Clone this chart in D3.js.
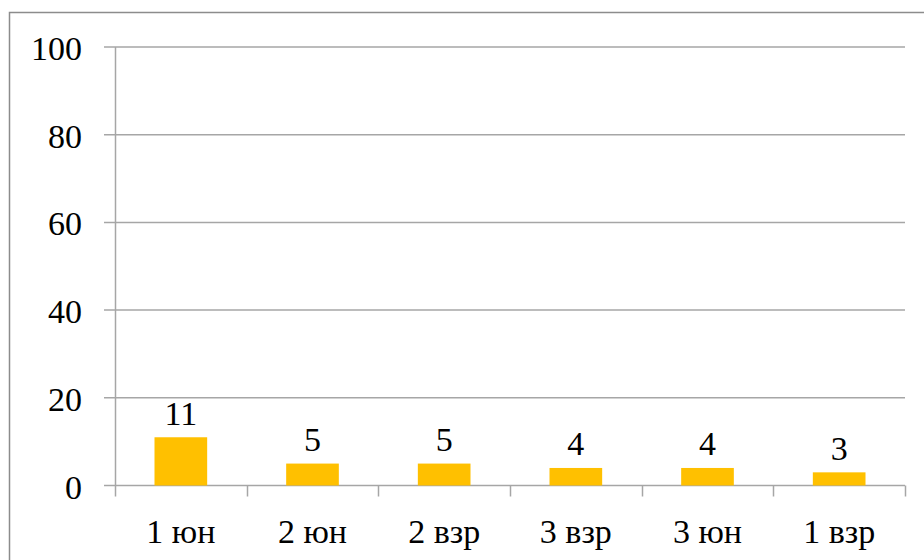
<!DOCTYPE html>
<html>
<head>
<meta charset="utf-8">
<script src="https://cdn.jsdelivr.net/npm/d3@7"></script>
<style>
  html, body { margin: 0; padding: 0; background: #fff; }
  svg { display: block; }
</style>
</head>
<body>
<svg id="chart" width="924" height="560"></svg>
<script>
const categories = ["1 юн", "2 юн", "2 взр", "3 взр", "3 юн", "1 взр"];
const values = [11, 5, 5, 4, 4, 3];
const yTicks = [0, 20, 40, 60, 80, 100];

const FONT = "'Liberation Serif', 'Times New Roman', Times, serif";
const svg = d3.select("#chart");
const W = 924, H = 560;
const margin = { left: 115, right: 19, top: 47, bottom: 74.5 };
const plotW = W - margin.left - margin.right;
const plotH = H - margin.top - margin.bottom;

// outer chart frame
svg.append("rect")
  .attr("x", 9.5).attr("y", 12.5)
  .attr("width", W).attr("height", H)
  .attr("fill", "none").attr("stroke", "#8c8c8c").attr("stroke-width", 1.5);

const g = svg.append("g").attr("transform", `translate(${margin.left},${margin.top})`);

const x = d3.scaleBand().domain(categories).range([0, plotW]).paddingInner(0.6).paddingOuter(0.3);
const y = d3.scaleLinear().domain([0, 100]).range([plotH, 0]);

// horizontal gridlines with short ticks left of the axis
g.append("g").selectAll("line").data(yTicks).join("line")
  .attr("x1", -11).attr("x2", plotW)
  .attr("y1", d => y(d)).attr("y2", d => y(d))
  .attr("stroke", "#a6a6a6").attr("stroke-width", 1.5);

// y axis line
g.append("line")
  .attr("x1", 0.5).attr("x2", 0.5).attr("y1", 0).attr("y2", plotH + 11)
  .attr("stroke", "#a6a6a6").attr("stroke-width", 1.5);

// category separator ticks
const step = plotW / categories.length;
g.append("g").selectAll("line").data(d3.range(1, categories.length + 1)).join("line")
  .attr("x1", i => Math.round(i * step) + 0.5).attr("x2", i => Math.round(i * step) + 0.5)
  .attr("y1", plotH).attr("y2", plotH + 11)
  .attr("stroke", "#a6a6a6").attr("stroke-width", 1.5);

// y tick labels
g.append("g").selectAll("text").data(yTicks).join("text")
  .attr("x", -33).attr("y", d => y(d) + 13)
  .attr("text-anchor", "end")
  .attr("font-family", FONT).attr("font-size", 34)
  .text(d => d);

// bars
g.append("g").selectAll("rect").data(values).join("rect")
  .attr("x", (d, i) => x(categories[i]))
  .attr("width", x.bandwidth())
  .attr("y", d => y(d))
  .attr("height", d => plotH - y(d))
  .attr("fill", "#ffc000");

// value labels
g.append("g").selectAll("text").data(values).join("text")
  .attr("x", (d, i) => x(categories[i]) + x.bandwidth() / 2)
  .attr("y", d => y(d) - 12.5)
  .attr("text-anchor", "middle")
  .attr("font-family", FONT).attr("font-size", 34)
  .text(d => d);

// category labels
g.append("g").selectAll("text").data(categories).join("text")
  .attr("x", d => x(d) + x.bandwidth() / 2)
  .attr("y", plotH + 57.5)
  .attr("text-anchor", "middle")
  .attr("font-family", FONT).attr("font-size", 34)
  .text(d => d);
</script>
</body>
</html>
